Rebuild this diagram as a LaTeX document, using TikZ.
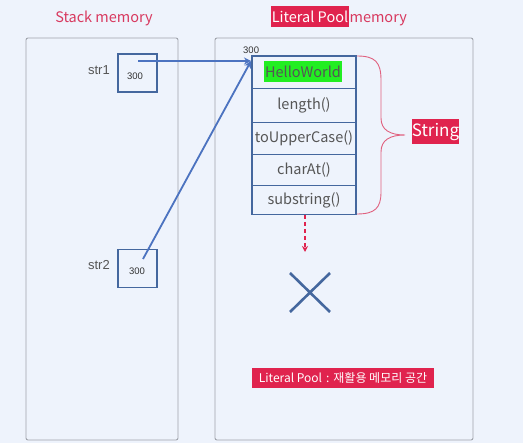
\documentclass[tikz,border=0pt]{standalone}
\usepackage{fontspec}
\setmainfont{Noto Sans CJK KR}
\newfontfamily\numfont{Liberation Sans}
\usetikzlibrary{arrows.meta}
\definecolor{bgc}{HTML}{EEF3FC}
\definecolor{panelc}{HTML}{9FA3AB}
\definecolor{redc}{HTML}{E0234E}
\definecolor{redtxt}{HTML}{D8395F}
\definecolor{boxc}{HTML}{44679E}
\definecolor{arrc}{HTML}{4C73C0}
\definecolor{greyt}{HTML}{555555}
\definecolor{greenc}{HTML}{22EE22}
\tikzset{
  panel/.style={draw=panelc, line width=0.9pt, rounded corners=2pt},
  varbox/.style={draw=boxc, line width=1.3pt, minimum width=39pt, minimum height=38pt, inner sep=0pt},
  cell/.style={draw=boxc, line width=1.2pt, minimum width=104pt, inner sep=0pt, text=greyt, font=\fontsize{14.5}{16}\selectfont},
  redlabel/.style={fill=redc, text=white, inner sep=1.5pt},
  numlbl/.style={font=\numfont\fontsize{9.5}{10}\selectfont, text=black!80, inner sep=0pt},
  varlbl/.style={font=\numfont\fontsize{13}{14}\selectfont, text=greyt, inner sep=0pt},
  ptr/.style={draw=arrc, line width=1.8pt, -{Stealth[length=7pt,width=7pt]}},
}
\begin{document}
\begin{tikzpicture}[x=1pt,y=-1pt]
\fill[bgc] (0,0) rectangle (523,443);
\useasboundingbox (0,0) rectangle (523,443);
% panels
\draw[panel] (26,38) rectangle (178,440);
\draw[panel] (215,38) rectangle (473,440);
% titles
\node[text=redtxt, font=\fontsize{14.5}{16}\selectfont] (t1) at (104,18) {Stack memory};
\node[redlabel, font=\fontsize{14.5}{16}\selectfont, minimum height=21pt, inner sep=0.5pt] (t2) at (310,17) {Literal Pool};
\node[text=redtxt, font=\fontsize{14.5}{16}\selectfont, anchor=base west, inner sep=0.5pt] (t3) at (t2.base east) {memory};
% stack variables
\node[varbox] (s1) at (137.5,73) {};
\node[numlbl] (s1n) at (135,76) {300};
\node[varlbl, anchor=east] (s1l) at (110,70) {str1};
\node[varbox] (s2) at (137.5,268.5) {};
\node[numlbl] (s2n) at (137,271) {300};
\node[varlbl, anchor=east] (s2l) at (110,265) {str2};
% string object cells
\node[cell, minimum height=32.5pt] (c1) at (304,72.2) {};
\node[fill=greenc, inner sep=1pt, text=greyt, font=\fontsize{14.5}{16}\selectfont, minimum height=21pt] (hw) at (303,71.5) {HelloWorld};
\node[cell, minimum height=34.4pt] (c2) at (304,105.5) {length()};
\node[cell, minimum height=31.6pt] (c3) at (304,138.5) {toUpperCase()};
\node[cell, minimum height=31.4pt] (c4) at (304,170) {charAt()};
\node[cell, minimum height=28.3pt] (c5) at (304,200) {substring()};
\node[numlbl, anchor=south west] (addr) at (243,53.5) {300};
\coordinate (tgt) at (251,61);
% pointers
\coordinate (p1) at (138,61);
\coordinate (p2) at (143,259);
\draw[ptr] (p1) -- (tgt);
\draw[ptr] (p2) -- (tgt);
% brace
\draw[redtxt!80, line width=0.9pt] (357,56) .. controls (375,56) and (381,62) .. (381,80) -- (381,118)
  .. controls (381,130) and (390,135) .. (405,135)
  .. controls (390,135) and (381,140) .. (381,152) -- (381,192)
  .. controls (381,208) and (375,214) .. (357,214);
\node[redlabel, font=\fontsize{17}{18}\selectfont, minimum height=25pt, minimum width=47pt, inner sep=0pt] (str) at (435.5,132) {String};
% dashed arrow
\coordinate (d0) at (305,215);
\coordinate (d1) at (305,252);
\draw[draw=redc, line width=1.6pt, dash pattern=on 4pt off 3pt, -{Stealth[length=6pt,width=6pt]}] (d0) -- (d1);
% X mark
\coordinate (x1) at (290,273);
\coordinate (x2) at (330,312);
\coordinate (x3) at (290,312);
\coordinate (x4) at (330,273);
\draw[draw=boxc, line width=2.6pt] (x1) -- (x2) (x3) -- (x4);
% bottom label
\node[redlabel, font=\fontsize{12}{14}\selectfont, minimum height=20pt, minimum width=182pt, inner sep=0pt] (bl) at (343,378) {Literal Pool\,\,:\,\,재활용 메모리 공간};
\end{tikzpicture}
\end{document}
